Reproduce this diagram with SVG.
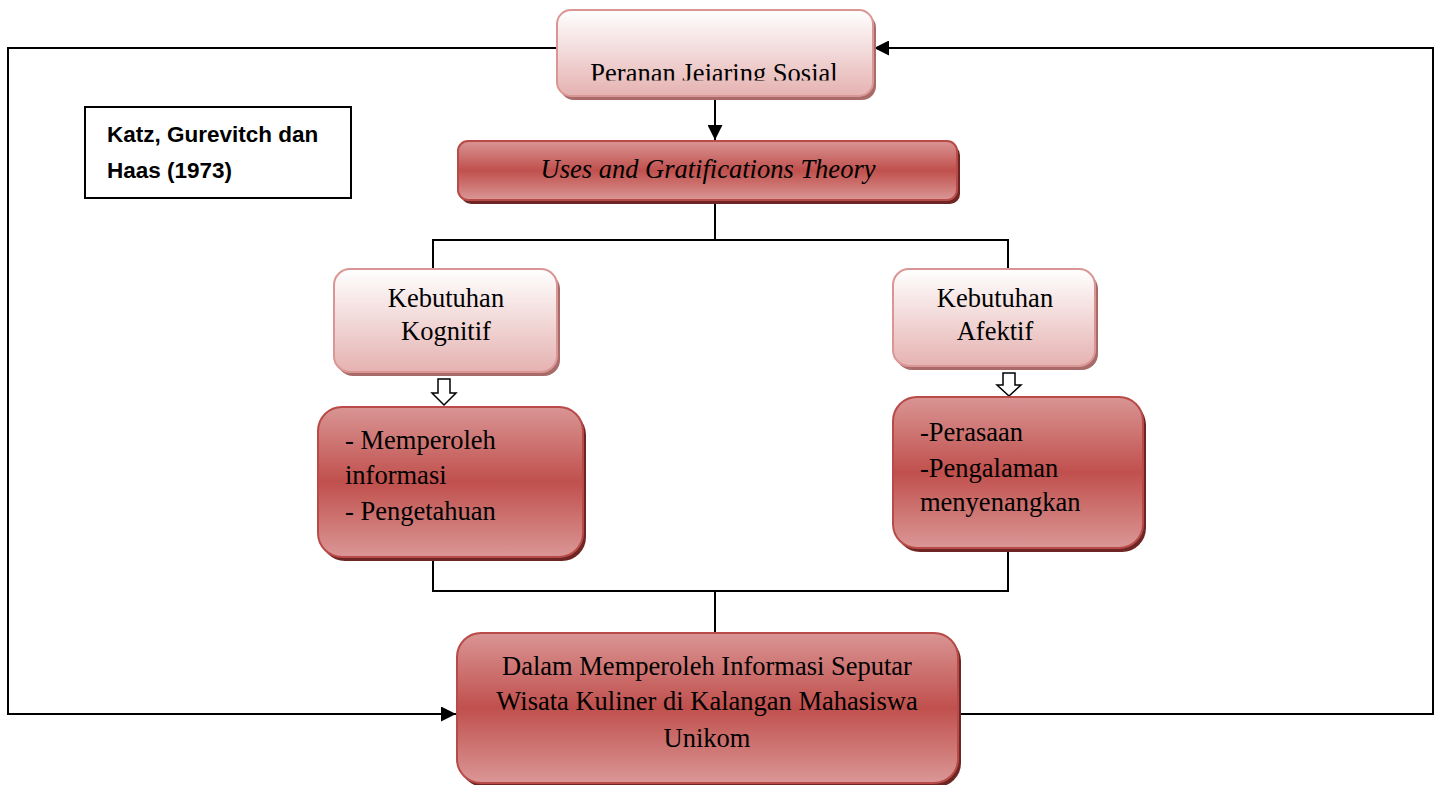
<svg xmlns="http://www.w3.org/2000/svg" width="1443" height="785" viewBox="0 0 1443 785">
<defs>
<linearGradient id="pink" x1="0" y1="0" x2="0" y2="1">
<stop offset="0" stop-color="#ffffff"/>
<stop offset="1" stop-color="#e5b2b1"/>
</linearGradient>
<linearGradient id="red" x1="0" y1="0" x2="0" y2="1">
<stop offset="0" stop-color="#d99594"/>
<stop offset="0.5" stop-color="#c0504d"/>
<stop offset="1" stop-color="#da9796"/>
</linearGradient>
<marker id="ah" viewBox="0 0 10 10" refX="10" refY="5" markerWidth="8" markerHeight="7.5" orient="auto" markerUnits="strokeWidth">
<path d="M0,0 L10,5 L0,10 z" fill="#000"/>
</marker>
<clipPath id="clipTop"><rect x="557" y="10" width="316" height="70.5"/></clipPath>
</defs>
<style>
.ln{fill:none;stroke:#000;stroke-width:2}
.pk{fill:url(#pink);stroke:#da9694;stroke-width:2}
.rd{fill:url(#red);stroke:#b84a47;stroke-width:2}
.shp{fill:#a86b6a}
.shr{fill:#6e2624}
.t{font-family:"Liberation Serif","Times New Roman",serif;font-size:26.5px;fill:#000}
.b{font-family:"Liberation Sans",Arial,sans-serif;font-size:22.5px;font-weight:bold;fill:#000}
.hol{fill:#fff;stroke:#000;stroke-width:1.5}
</style>
<rect width="1443" height="785" fill="#fff"/>
<g id="connectors">
<polyline class="ln" points="557,48 8,48 8,714 456,714" marker-end="url(#ah)"/>
<polyline class="ln" points="958,714 1433,714 1433,48 874,48" marker-end="url(#ah)"/>
<line class="ln" x1="715" y1="96" x2="715" y2="140" marker-end="url(#ah)"/>
<polyline class="ln" points="715,200 715,240"/>
<polyline class="ln" points="433,270 433,240 1008,240 1008,270"/>
<polyline class="ln" points="433,558 433,591 1008,591 1008,549"/>
<line class="ln" x1="715" y1="591" x2="715" y2="633"/>
<path class="hol" d="M438,379 H450 V393 H456 L444,405 L432,393 H438 Z"/>
<path class="hol" d="M1003,373 H1015 V385 H1021 L1009,396 L997,385 H1003 Z"/>
</g>
<g id="katz">
<rect x="85" y="107" width="266" height="91" fill="#fff" stroke="#000" stroke-width="2"/>
<text class="b" x="107" y="142">Katz, Gurevitch dan</text>
<text class="b" x="107" y="178">Haas (1973)</text>
</g>
<g id="peranan">
<rect class="shp" x="560" y="14" width="316" height="86" rx="14"/>
<rect class="pk" x="557" y="10" width="316" height="86" rx="14"/>
<text class="t" x="714" y="82" text-anchor="middle" clip-path="url(#clipTop)">Peranan Jejaring Sosial</text>
</g>
<g id="uses">
<rect class="shr" x="461" y="145" width="499" height="59" rx="10"/>
<rect class="rd" x="458" y="141" width="499" height="59" rx="10"/>
<text class="t" x="708" y="178" text-anchor="middle" font-style="italic">Uses and Gratifications Theory</text>
</g>
<g id="kognitif">
<rect class="shp" x="337" y="273" width="223" height="103" rx="16"/>
<rect class="pk" x="334" y="269" width="223" height="103" rx="16"/>
<text class="t" x="446" y="307" text-anchor="middle">Kebutuhan</text>
<text class="t" x="446" y="340" text-anchor="middle">Kognitif</text>
</g>
<g id="afektif">
<rect class="shp" x="896" y="273" width="202" height="97" rx="16"/>
<rect class="pk" x="893" y="269" width="202" height="97" rx="16"/>
<text class="t" x="995" y="307" text-anchor="middle">Kebutuhan</text>
<text class="t" x="995" y="340" text-anchor="middle">Afektif</text>
</g>
<g id="memperoleh">
<rect class="shr" x="321" y="411" width="265" height="150" rx="24"/>
<rect class="rd" x="318" y="407" width="265" height="150" rx="24"/>
<text class="t" x="345" y="449">- Memperoleh</text>
<text class="t" x="345" y="484">informasi</text>
<text class="t" x="345" y="520">- Pengetahuan</text>
</g>
<g id="perasaan">
<rect class="shr" x="896" y="401" width="250" height="151" rx="24"/>
<rect class="rd" x="893" y="397" width="250" height="151" rx="24"/>
<text class="t" x="920" y="441">-Perasaan</text>
<text class="t" x="920" y="477">-Pengalaman</text>
<text class="t" x="920" y="511">menyenangkan</text>
</g>
<g id="dalam">
<rect class="shr" x="460" y="637" width="501" height="150" rx="24"/>
<rect class="rd" x="457" y="633" width="501" height="150" rx="24"/>
<text class="t" x="707" y="675" text-anchor="middle">Dalam Memperoleh Informasi Seputar</text>
<text class="t" x="707" y="710" text-anchor="middle">Wisata Kuliner di Kalangan Mahasiswa</text>
<text class="t" x="707" y="747" text-anchor="middle">Unikom</text>
</g>
</svg>
